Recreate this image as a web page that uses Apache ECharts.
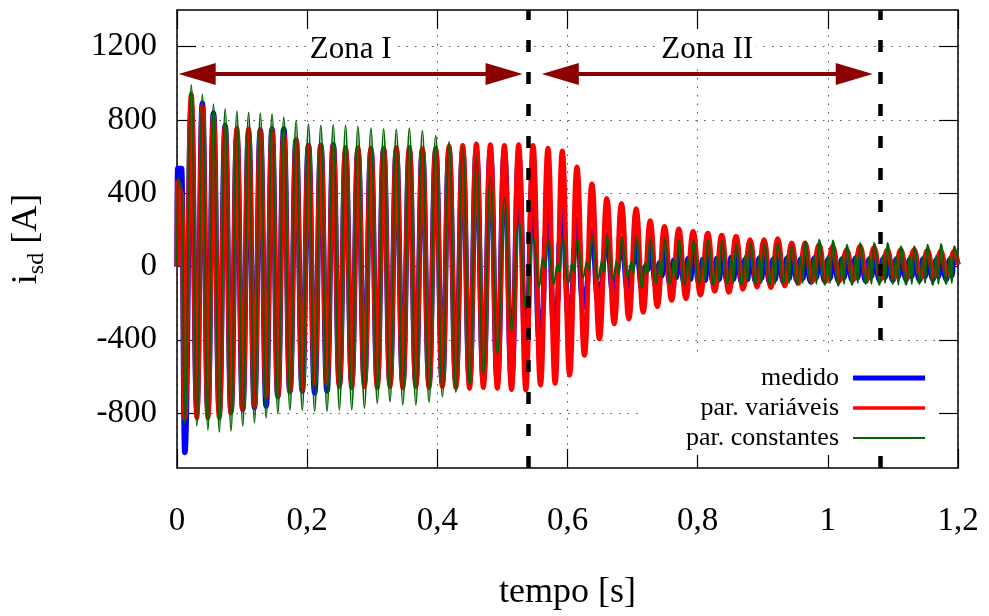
<!DOCTYPE html>
<html>
<head>
<meta charset="utf-8">
<script src="https://cdn.jsdelivr.net/npm/echarts@6/dist/echarts.min.js"></script>
<style>
  html, body { margin: 0; padding: 0; background: #fff; }
  #chart { width: 989px; height: 616px; }
</style>
</head>
<body>
<div id="chart"></div>
<script>
// ---- Zone I samples (ms): start-up, then alternating troughs / peaks ----
const tZoneI = [0, 1, 7, 12, 22, 30.5, 39, 47.5, 56, 65, 74, 83, 92, 101, 110, 119, 128, 137, 146, 155,
  164, 173.5, 183, 192.5, 202, 211.5, 221, 230.5, 240, 249.5, 259, 268.5, 278, 288, 298, 307.75, 317.5,
  327.25, 337, 347, 357, 367, 377, 387.25, 397.5, 407.75, 418, 428.5, 439, 449.5, 460, 470.75, 481.5,
  492.25, 503, 514, 525, 536];

const medidoZoneI = [0, 535, 535, -1015, 880, -780, 892, -780, 838, -790,
  770, -790, 715, -780, 730, -770, 745, -762, 750, -710,
  751, -683, 690, -680, 660, -690, 661, -680, 665, -640,
  625, -630, 630, -630, 632, -630, 635, -630, 630, -635,
  628, -630, 630, -630, 628, -635, 630, -630, 625, -630,
  630, -625, 620, -625, 625, -620, 600, -510];

const variaveisZoneI = [0, 460, 400, -830, 940, -826, 876, -826, 823, -826,
  760, -800, 755, -780, 751, -762, 742, -710, 742, -710,
  724, -683, 688, -674, 661, -638, 661, -638, 661, -655,
  650, -660, 648, -655, 645, -660, 645, -655, 648, -660,
  650, -655, 642, -660, 645, -655, 656, -660, 661, -665,
  669, -660, 665, -665, 661, -672, 665, -674];

const constantesZoneI = [0, 480, 430, -860, 990, -870, 940, -892, 886, -903,
  859, -897, 847, -870, 841, -852, 836, -826, 832, -802,
  814, -784, 796, -784, 778, -790, 769, -790, 772, -782,
  769, -782, 764, -773, 755, -746, 751, -737, 748, -755,
  755, -755, 741, -740, 714, -710, 681, -685, 651, -650,
  588, -584, 485, -476, 371, -349, 245, -223];

// ---- Zone II samples (ms) for medido / par. constantes: peak, dip, bump, dip per cycle ----
const tZoneII = [
  547, 556.5, 562, 566,   570, 579, 584.5, 588,   592, 601.5, 607, 610.5,
  614.5, 624, 629.5, 633.5,   637.5, 647, 652.5, 656.5,   660.5, 670, 675.5, 679,
  683, 692.5, 698, 701.5,   705.5, 714.5, 719.5, 723,   727, 736, 741.5, 745,
  749, 758, 763.5, 767,   771, 780, 785.5, 789,   793, 802.5, 808, 811.5,
  815.5, 824.5, 829.5, 833,   837, 846, 851.5, 855,   859, 868, 873, 876.5,
  880.5, 889.5, 894.5, 898,   902, 911, 916, 919,   923, 932, 937, 940.5,
  944.5, 953, 958, 961.5,   965, 974, 979, 982.5,   986.5, 995.5, 1000.5, 1003.5,
  1007.5, 1016.5, 1021.5, 1025,   1029, 1037.5, 1042.5, 1046,   1049.5, 1058.5, 1063.5, 1067,
  1071, 1079.5, 1084.5, 1088,   1091.5, 1100, 1105, 1108.5,   1112, 1120.5, 1125.5, 1129,
  1132.5, 1141, 1146, 1149.5,   1153, 1161.5, 1166.5, 1170,   1173.5, 1182, 1187, 1190.5,
  1194, 1200];

const medidoZoneII = [
  540, -400, -240, 170,   430, -350, -200, 140,   344, -286, -160, 100,
  256, -223, -120, 80,   200, -196, -90, 60,   170, -151, -50, 40,
  150, -133, -20, 20,   130, -124, 0, -20,   120, -110, 20, -50,
  115, -100, 35, -60,   110, -100, 45, -70,   110, -95, 40, -75,
  105, -95, 45, -70,   100, -90, 50, -70,   100, -90, 40, -70,
  95, -85, 45, -65,   95, -90, 40, -70,   90, -85, 45, -65,
  90, -80, 40, -65,   85, -85, 45, -60,   85, -80, 40, -65,
  85, -80, 40, -60,   80, -75, 45, -60,   80, -80, 40, -55,
  80, -75, 40, -60,   75, -75, 40, -55,   75, -70, 35, -55,
  75, -75, 40, -55,   70, -70, 35, -55,   70, -70, 35, -50,
  70, 10];

const constantesZoneII = [
  160, -110, 45, -10,   146, -97, 15, -30,   155, -88, 15, -30,
  146, -61, 20, -20,   164, -70, 20, -30,   164, -70, 25, -40,
  155, -61, 25, -40,   164, -115, 20, -40,   155, -90, 30, -60,
  150, -95, 40, -70,   145, -100, 45, -75,   140, -95, 50, -80,
  146, -100, 55, -85,   142, -95, 55, -90,   120, -100, 60, -85,
  128, -95, 60, -90,   128, -100, 55, -95,   128, -95, 60, -90,
  115, -100, 55, -90,   137, -95, 60, -95,   146, -100, 60, -90,
  142, -105, 55, -95,   119, -100, 60, -90,   128, -95, 55, -95,
  128, -100, 60, -90,   128, -95, 55, -100,   110, -100, 60, -95,
  110, -95, 55, -90,   119, -100, 60, -95,   123, -95, 55, -90,
  110, 20];

// ---- Zone II samples (ms) for par. variáveis: alternating peaks / troughs ----
const tVariaveisZoneII = [547, 558.5, 570, 581, 592, 603.25, 614.5, 626, 637.5, 649, 660.5, 671.75,
  683, 694.25, 705.5, 716.25, 727, 738, 749, 760, 771, 782, 793, 804.25, 815.5, 826.25, 837, 848,
  859, 869.75, 880.5, 891.25, 902, 912.5, 923, 933.75, 944.5, 954.75, 965, 975.75, 986.5, 997,
  1007.5, 1018.25, 1029, 1039.25, 1049.5, 1060.25, 1071, 1081.25, 1091.5, 1101.75, 1112, 1122.25,
  1132.5, 1142.75, 1153, 1163.25, 1173.5, 1183.75, 1194, 1200];

const variaveisZoneII = [660, -647, 645, -638, 630, -593, 543, -485, 450, -395, 371, -313,
  344, -286, 315, -250, 249, -219, 218, -185, 205, -175, 191, -155, 182, -135, 170, -140,
  164, -124, 146, -112, 146, -115, 151, -106, 128, -92, 128, -82, 119, -80,
  110, -78, 92, -72, 110, -70, 103, -68, 92, -62, 92, -60,
  92, -60, 88, -56, 83, -50, 83, 10];

// ---- annotations ----
const zoneBoundaries = [0.54, 1.083];           // s
const zoneNames = ['Zona I', 'Zona II'];
const zoneStart = [0.0026, 0.5605];             // s
const zoneEnd = [0.531, 1.069];                 // s
const arrowLevel = 1050;                        // A
const zoneLabelLevel = 1180;                    // A

const seriesNames = ['medido', 'par. variáveis', 'par. constantes'];
const seriesColors = ['#0000ff', '#ff0000', '#006400'];
const curveWidths = [5.5, 5, 2];
const legendWidths = [5, 3.5, 2];

const yTicks = [-800, -400, 0, 400, 800, 1200];
const xTickStep = 0.2;

function toPairs(tMs, values) {
  return tMs.map((t, i) => [t / 1000, values[i]]);
}

const medido = toPairs(tZoneI, medidoZoneI).concat(toPairs(tZoneII, medidoZoneII));
const variaveis = toPairs(tZoneI, variaveisZoneI).concat(toPairs(tVariaveisZoneII, variaveisZoneII));
const constantes = toPairs(tZoneI, constantesZoneI).concat(toPairs(tZoneII, constantesZoneII));

const FONT = '"Liberation Serif", "Times New Roman", serif';
const frameLine = { show: true, onZero: false, lineStyle: { color: '#000', width: 1.5 } };
const innerTick = { show: true, inside: true, length: 19, lineStyle: { color: '#000', width: 1.2 } };
const dotted = { show: true, lineStyle: { color: '#555', width: 1, type: [1.5, 7] } };

const chart = echarts.init(document.getElementById('chart'), null, { renderer: 'canvas' });

function lineSeries(name, data, idx, extra) {
  return Object.assign({
    name: name,
    type: 'line',
    data: data,
    symbol: 'none',
    showSymbol: false,
    smooth: 0.45,
    smoothMonotone: 'x',
    lineStyle: { color: seriesColors[idx], width: curveWidths[idx], join: 'round' },
    itemStyle: { color: seriesColors[idx] },
    emphasis: { disabled: true },
    animation: false,
    z: 2 + idx
  }, extra || {});
}

const legendGraphics = [{
  type: 'rect', z: 100,
  shape: { x: 638, y: 358, width: 301, height: 97 },
  style: { fill: '#fff' }
}];
seriesNames.forEach((n, i) => {
  const y = 378 + 30 * i;
  legendGraphics.push({
    type: 'text', z: 101, x: 839, y: y,
    style: { text: n, font: '26px ' + FONT, fill: '#000', align: 'right', verticalAlign: 'middle' }
  });
  legendGraphics.push({
    type: 'line', z: 101,
    shape: { x1: 853, y1: y, x2: 925, y2: y },
    style: { stroke: seriesColors[i], lineWidth: legendWidths[i] }
  });
});

const option = {
  animation: false,
  backgroundColor: '#fff',
  grid: { left: 177, right: 31, top: 10, bottom: 144, containLabel: false },
  xAxis: [{
    type: 'value', position: 'bottom', min: 0, max: 1.2, interval: xTickStep,
    axisLine: frameLine, axisTick: innerTick, splitLine: dotted,
    axisLabel: {
      margin: 37, fontSize: 33, fontFamily: FONT, color: '#000',
      formatter: v => String(Math.round(v * 10) / 10).replace('.', ',')
    },
    name: 'tempo [s]', nameLocation: 'middle', nameGap: 107,
    nameTextStyle: { fontSize: 36, fontFamily: FONT, color: '#000' }
  }, {
    type: 'value', position: 'top', min: 0, max: 1.2, interval: xTickStep,
    axisLine: frameLine, axisTick: innerTick, axisLabel: { show: false }, splitLine: { show: false }
  }],
  yAxis: [{
    type: 'value', position: 'left', min: -1100, max: 1400,
    axisLine: frameLine,
    axisTick: Object.assign({ customValues: yTicks }, innerTick),
    splitLine: dotted,
    axisLabel: {
      customValues: yTicks, margin: 20, fontSize: 33, fontFamily: FONT, color: '#000',
      formatter: v => String(v)
    },
    name: '{i|i}{s|sd}{u| [A]}', nameLocation: 'middle', nameGap: 128,
    nameTextStyle: {
      fontFamily: FONT, color: '#000', fontSize: 36,
      rich: {
        i: { fontSize: 36, fontFamily: FONT, color: '#000', lineHeight: 44, verticalAlign: 'middle' },
        s: { fontSize: 24, fontFamily: FONT, color: '#000', lineHeight: 44, verticalAlign: 'bottom', padding: [14, 0, 0, 0] },
        u: { fontSize: 36, fontFamily: FONT, color: '#000', lineHeight: 44, verticalAlign: 'middle' }
      }
    }
  }, {
    type: 'value', position: 'right', min: -1100, max: 1400,
    axisLine: frameLine,
    axisTick: Object.assign({ customValues: yTicks }, innerTick),
    axisLabel: { show: false }, splitLine: { show: false }
  }],
  series: [
    lineSeries(seriesNames[0], medido, 0, {
      markLine: {
        silent: true, symbol: 'none', animation: false, z: 10,
        label: { show: false },
        lineStyle: { color: '#000', width: 4.5, type: [12, 20] },
        emphasis: { disabled: true },
        data: zoneBoundaries.map(v => ({ xAxis: v }))
      }
    }),
    lineSeries(seriesNames[1], variaveis, 1),
    lineSeries(seriesNames[2], constantes, 2),
    {
      type: 'custom',
      name: 'zonas',
      z: 20,
      silent: true,
      animation: false,
      encode: { x: [0, 1], y: [2, 3] },
      data: zoneStart.map((s, i) => [s, zoneEnd[i], arrowLevel, zoneLabelLevel]),
      renderItem: function (params, api) {
        const p1 = api.coord([api.value(0), api.value(2)]);
        const p2 = api.coord([api.value(1), api.value(2)]);
        const lab = api.coord([(api.value(0) + api.value(1)) / 2, api.value(3)]);
        const hl = 37, hw = 11, col = '#8b0000';
        return {
          type: 'group',
          children: [
            { type: 'line', shape: { x1: p1[0] + hl - 2, y1: p1[1], x2: p2[0] - hl + 2, y2: p2[1] },
              style: { stroke: col, lineWidth: 4 } },
            { type: 'polygon', shape: { points: [[p1[0], p1[1]], [p1[0] + hl, p1[1] - hw], [p1[0] + hl, p1[1] + hw]] },
              style: { fill: col } },
            { type: 'polygon', shape: { points: [[p2[0], p2[1]], [p2[0] - hl, p2[1] - hw], [p2[0] - hl, p2[1] + hw]] },
              style: { fill: col } },
            { type: 'text', x: lab[0], y: lab[1],
              style: { text: zoneNames[params.dataIndex], font: '31px ' + FONT, fill: '#000',
                       align: 'center', verticalAlign: 'middle', backgroundColor: '#fff', padding: [0, 3] } }
          ]
        };
      }
    }
  ],
  graphic: legendGraphics
};

chart.setOption(option);
</script>
</body>
</html>
